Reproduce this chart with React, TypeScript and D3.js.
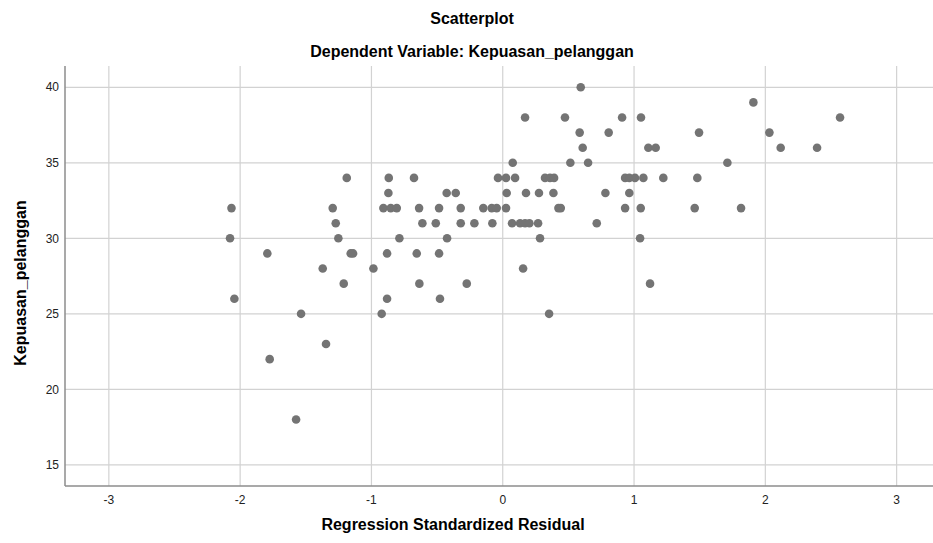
import React from "react";
import * as d3 from "d3";

const WIDTH = 933;
const HEIGHT = 543;

// points grouped by the y value (Kepuasan_pelanggan score)
const residual = [
  0.594,
  1.909,
  0.17, 0.474, 0.909, 1.053, 2.569,
  0.586, 0.807, 1.495, 2.031,
  0.609, 1.109, 1.165, 2.117, 2.394,
  0.076, 0.515, 0.65, 1.711,
  -1.188, -0.868, -0.676, -0.036, 0.025, 0.094, 0.322, 0.36, 0.391, 0.932, 0.964, 1.007, 1.071, 1.223, 1.482,
  -0.871, -0.427, -0.358, 0.03, 0.177, 0.276, 0.386, 0.782, 0.964,
  -2.066, -1.295, -0.909, -0.853, -0.807, -0.637, -0.485, -0.32, -0.148, -0.084, -0.046, 0.025, 0.424, 0.442, 0.932, 1.051, 1.462, 1.815,
  -1.272, -0.612, -0.51, -0.32, -0.216, -0.079, 0.071, 0.132, 0.17, 0.203, 0.269, 0.716,
  -2.077, -1.252, -0.787, -0.424, 0.284, 1.046,
  -1.793, -1.158, -1.14, -0.881, -0.655, -0.485,
  -1.371, -0.985, 0.155,
  -1.211, -0.635, -0.274, 1.122,
  -2.044, -0.881, -0.478,
  -1.536, -0.922, 0.353,
  -1.346,
  -1.775,
  -1.574,
];

const kepuasan = [
  40,
  39,
  38, 38, 38, 38, 38,
  37, 37, 37, 37,
  36, 36, 36, 36, 36,
  35, 35, 35, 35,
  34, 34, 34, 34, 34, 34, 34, 34, 34, 34, 34, 34, 34, 34, 34,
  33, 33, 33, 33, 33, 33, 33, 33, 33,
  32, 32, 32, 32, 32, 32, 32, 32, 32, 32, 32, 32, 32, 32, 32, 32, 32, 32,
  31, 31, 31, 31, 31, 31, 31, 31, 31, 31, 31, 31,
  30, 30, 30, 30, 30, 30,
  29, 29, 29, 29, 29, 29,
  28, 28, 28,
  27, 27, 27, 27,
  26, 26, 26,
  25, 25, 25,
  23,
  22,
  18,
];

const xTicks = [-3, -2, -1, 0, 1, 2, 3];
const yTicks = [15, 20, 25, 30, 35, 40];

const FONT = "'Liberation Sans', Arial, sans-serif";

export default function App() {
  const left = 65;
  const right = 933;
  const top = 66;
  const bottom = 486;

  const x = d3.scaleLinear().domain([-3.334, 3.277]).range([left, right]);
  const y = d3.scaleLinear().domain([13.6, 41.41]).range([bottom, top]);

  const points = residual.map((r, i) => ({ r, k: kepuasan[i] }));

  return (
    <div style={{ position: "absolute", left: 0, top: 0 }}>
      <svg width={WIDTH} height={HEIGHT} style={{ display: "block", background: "#fff" }}>
        {/* grid */}
        {yTicks.map((t) => (
          <line key={"gy" + t} x1={left} x2={right} y1={y(t)} y2={y(t)} stroke="#d2d2d2" strokeWidth={1.2} />
        ))}
        {xTicks.map((t) => (
          <line key={"gx" + t} x1={x(t)} x2={x(t)} y1={top} y2={bottom} stroke="#d2d2d2" strokeWidth={1.2} />
        ))}

        {/* axes */}
        <line x1={left} x2={left} y1={top} y2={bottom} stroke="#8c8c8c" strokeWidth={1.5} />
        <line x1={left} x2={right} y1={bottom} y2={bottom} stroke="#8c8c8c" strokeWidth={1.5} />

        {yTicks.map((t) => (
          <text key={"ty" + t} x={59} y={y(t)} dy="0.35em" textAnchor="end" fontFamily={FONT} fontSize={12} fill="#222">
            {t}
          </text>
        ))}
        {xTicks.map((t) => (
          <text key={"tx" + t} x={x(t)} y={504} textAnchor="middle" fontFamily={FONT} fontSize={12} fill="#222">
            {t}
          </text>
        ))}

        {/* points */}
        {points.map((p, i) => (
          <circle key={i} cx={x(p.r)} cy={y(p.k)} r={4.3} fill="#747474" />
        ))}

        {/* titles */}
        <text x={472} y={24} textAnchor="middle" fontFamily={FONT} fontSize={16} fontWeight="bold" fill="#000">
          Scatterplot
        </text>
        <text x={472} y={57} textAnchor="middle" fontFamily={FONT} fontSize={16} fontWeight="bold" fill="#000">
          Dependent Variable: Kepuasan_pelanggan
        </text>
        <text x={453} y={530} textAnchor="middle" fontFamily={FONT} fontSize={16} fontWeight="bold" fill="#000">
          Regression Standardized Residual
        </text>
        <text
          transform={`translate(26, ${283}) rotate(-90)`}
          textAnchor="middle"
          fontFamily={FONT}
          fontSize={16}
          fontWeight="bold"
          fill="#000"
        >
          Kepuasan_pelanggan
        </text>
      </svg>
    </div>
  );
}
